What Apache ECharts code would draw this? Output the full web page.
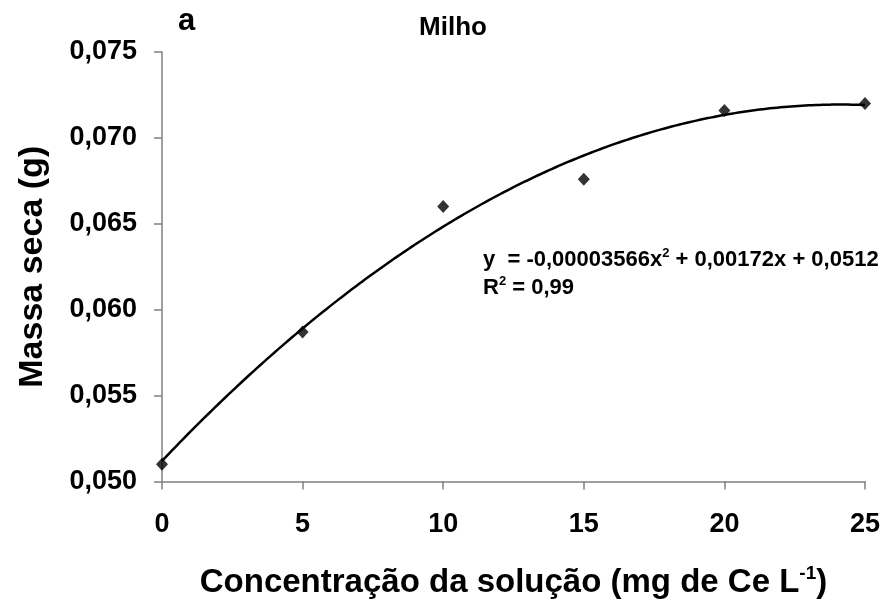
<!DOCTYPE html>
<html>
<head>
<meta charset="utf-8">
<script src="https://cdn.jsdelivr.net/npm/echarts@6/dist/echarts.min.js"></script>
<style>
  html, body { margin: 0; padding: 0; background: #fff; }
  #chart { width: 890px; height: 604px; }
</style>
</head>
<body>
<div id="chart"></div>
<script>
// Concentração de Ce na solução (mg L-1)
const concentracao = [0, 5, 10, 15, 20, 25];
// Massa seca observada (g)
const massaSeca = [0.0510, 0.0587, 0.0660, 0.0676, 0.0716, 0.0720];
// Coeficientes do ajuste quadrático: a·x² + b·x + c
const coeficientes = [-0.00003566, 0.00172, 0.0512];
const r2 = 0.99;
// Rótulos dos eixos
const yTicks = [0.050, 0.055, 0.060, 0.065, 0.070, 0.075];
const xTicks = [0, 5, 10, 15, 20, 25];

const FONT = '"Liberation Sans", Arial, sans-serif';
const fmt = (v, d) => v.toFixed(d).replace('.', ',');

// curva ajustada avaliada a partir dos coeficientes da equação
const curva = [];
for (let i = 0; i <= 100; i++) {
  const x = xTicks[0] + (xTicks[xTicks.length - 1] - xTicks[0]) * i / 100;
  curva.push([x, coeficientes[0] * x * x + coeficientes[1] * x + coeficientes[2]]);
}

const eqTexto =
  '{n|y  = ' + fmt(coeficientes[0], 8) + 'x}{s|2}{n| + ' + fmt(coeficientes[1], 5) +
  'x + ' + fmt(coeficientes[2], 4) + '}\n{n|R}{s|2}{n| = ' + fmt(r2, 2) + '}';

const chart = echarts.init(document.getElementById('chart'), null, { renderer: 'canvas' });

const axisLine = { show: true, lineStyle: { color: '#808080', width: 1.5 } };
const axisTick = { show: true, inside: false, length: 8, lineStyle: { color: '#808080', width: 1.5 } };

chart.setOption({
  animation: false,
  backgroundColor: '#ffffff',
  grid: { left: 162, right: 25, top: 52, bottom: 118, containLabel: false },
  xAxis: {
    type: 'value',
    min: xTicks[0],
    max: xTicks[xTicks.length - 1],
    interval: 5,
    axisLine: axisLine,
    axisTick: axisTick,
    splitLine: { show: false },
    axisLabel: {
      margin: 30,
      fontFamily: FONT, fontWeight: 'bold', fontSize: 27, color: '#000'
    },
    name: '{t|Concentração da solução (mg de Ce L}{s|-1}{t|)}',
    nameLocation: 'middle',
    nameGap: 83,
    nameTextStyle: {
      rich: {
        t: { fontFamily: FONT, fontWeight: 'bold', fontSize: 33, color: '#000', lineHeight: 36 },
        s: { fontFamily: FONT, fontWeight: 'bold', fontSize: 19, color: '#000', lineHeight: 20, verticalAlign: 'top' }
      }
    }
  },
  yAxis: {
    type: 'value',
    min: yTicks[0],
    max: yTicks[yTicks.length - 1],
    interval: 0.005,
    axisLine: axisLine,
    axisTick: axisTick,
    splitLine: { show: false },
    axisLabel: {
      margin: 25,
      fontFamily: FONT, fontWeight: 'bold', fontSize: 27, color: '#000',
      formatter: v => fmt(v, 3)
    },
    name: 'Massa seca (g)',
    nameLocation: 'middle',
    nameGap: 112,
    nameTextStyle: { fontFamily: FONT, fontWeight: 'bold', fontSize: 34, color: '#000' }
  },
  graphic: [
    {
      type: 'text', left: 178, top: 6,
      style: { text: 'a', fontFamily: FONT, fontWeight: 'bold', fontSize: 31, fill: '#000' }
    },
    {
      type: 'text', x: 453, y: 28,
      style: { text: 'Milho', fontFamily: FONT, fontWeight: 'bold', fontSize: 26, fill: '#000',
               align: 'center', verticalAlign: 'middle' }
    },
    {
      type: 'text', x: 483, y: 246,
      style: {
        text: eqTexto,
        align: 'left', verticalAlign: 'top',
        rich: {
          n: { fontFamily: FONT, fontWeight: 'bold', fontSize: 22, fill: '#000', lineHeight: 28 },
          s: { fontFamily: FONT, fontWeight: 'bold', fontSize: 13, fill: '#000', lineHeight: 14,
               verticalAlign: 'top', padding: [1, 0, 0, 0] }
        }
      }
    }
  ],
  series: [
    {
      type: 'line',
      data: curva,
      showSymbol: false,
      smooth: true,
      lineStyle: { color: '#000', width: 2.5 },
      z: 2
    },
    {
      type: 'scatter',
      data: concentracao.map((x, i) => [x, massaSeca[i]]),
      symbol: 'diamond',
      symbolSize: [12, 13],
      itemStyle: { color: '#000' },
      z: 3
    }
  ]
});
</script>
</body>
</html>
